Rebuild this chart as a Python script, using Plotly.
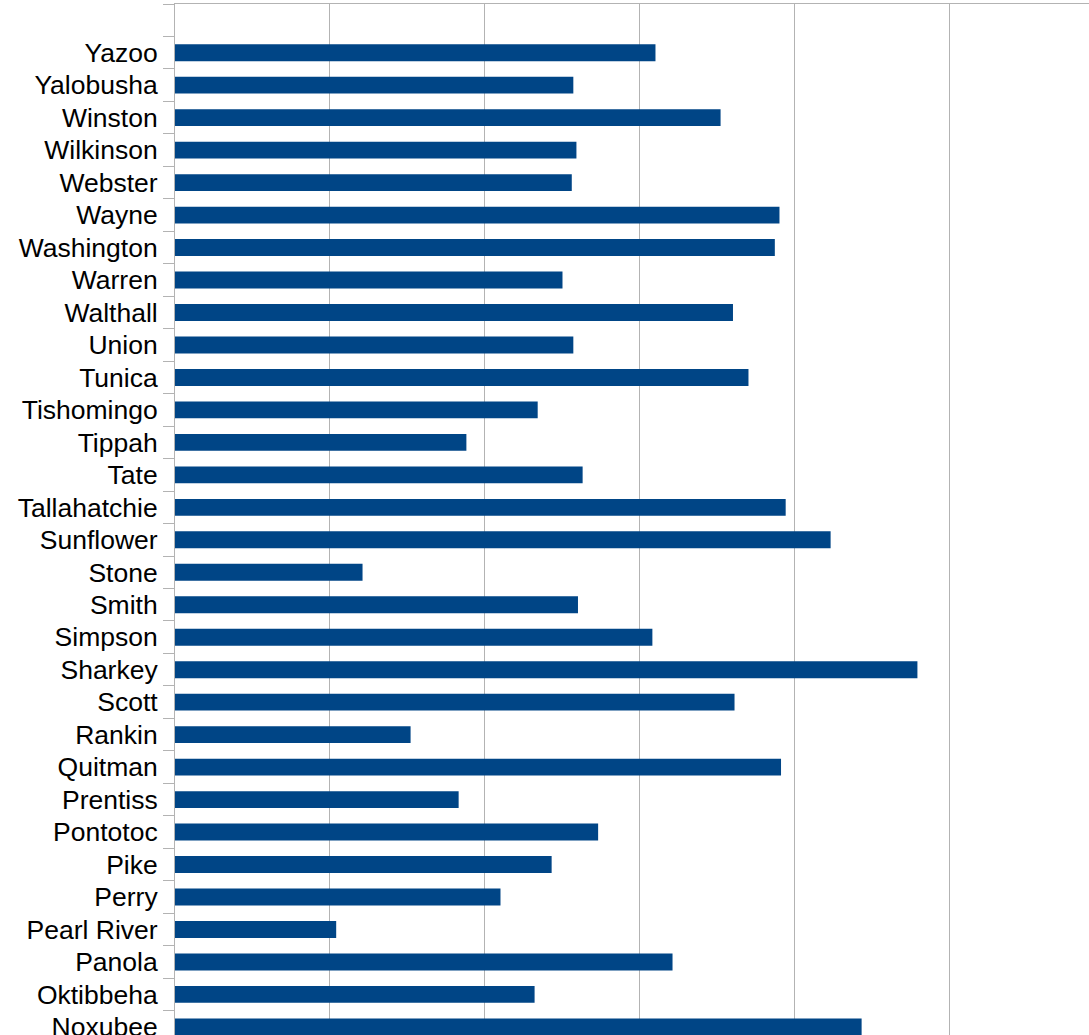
import plotly.graph_objects as go

# counties, top to bottom as shown
counties = ["Yazoo", "Yalobusha", "Winston", "Wilkinson", "Webster", "Wayne",
            "Washington", "Warren", "Walthall", "Union", "Tunica", "Tishomingo",
            "Tippah", "Tate", "Tallahatchie", "Sunflower", "Stone", "Smith",
            "Simpson", "Sharkey", "Scott", "Rankin", "Quitman", "Prentiss",
            "Pontotoc", "Pike", "Perry", "Pearl River", "Panola", "Oktibbeha",
            "Noxubee"]
values = [31.0, 25.7, 35.2, 25.9, 25.6, 39.0, 38.7, 25.0, 36.0, 25.7, 37.0, 23.4,
          18.8, 26.3, 39.4, 42.3, 12.1, 26.0, 30.8, 47.9, 36.1, 15.2, 39.1, 18.3,
          27.3, 24.3, 21.0, 10.4, 32.1, 23.2, 44.3]

# empty slot above the first county
cats = [" "] + counties
vals = [None] + values

grid = "#b3b3b3"

fig = go.Figure()
fig.add_trace(go.Bar(
    x=vals, y=cats, orientation="h",
    marker_color="#004586", marker_line_width=0,
))

fig.update_layout(
    width=1089, height=1035,
    margin=dict(l=175, r=0, t=4, b=0),
    plot_bgcolor="white", paper_bgcolor="white",
    bargap=0.48, showlegend=False,
    font=dict(family="Liberation Sans, Arial, sans-serif", size=26.5, color="black"),
)
fig.update_xaxes(
    side="top", range=[0, 58.97], dtick=10, tick0=0,
    showgrid=True, gridcolor=grid, gridwidth=1,
    showline=True, linecolor=grid, linewidth=1,
    showticklabels=False, zeroline=False, ticks="", automargin=False,
)
fig.update_yaxes(
    type="category", categoryorder="array", categoryarray=cats,
    range=[31.25, -0.5],
    tickson="boundaries", ticks="outside", ticklen=11, tickcolor=grid, tickwidth=1,
    showline=True, linecolor=grid, linewidth=1, showgrid=False,
    ticklabelstandoff=11, automargin=False,
)

fig.write_html("out.html", config={"displayModeBar": False},
               post_script="document.body.style.margin='0';")
